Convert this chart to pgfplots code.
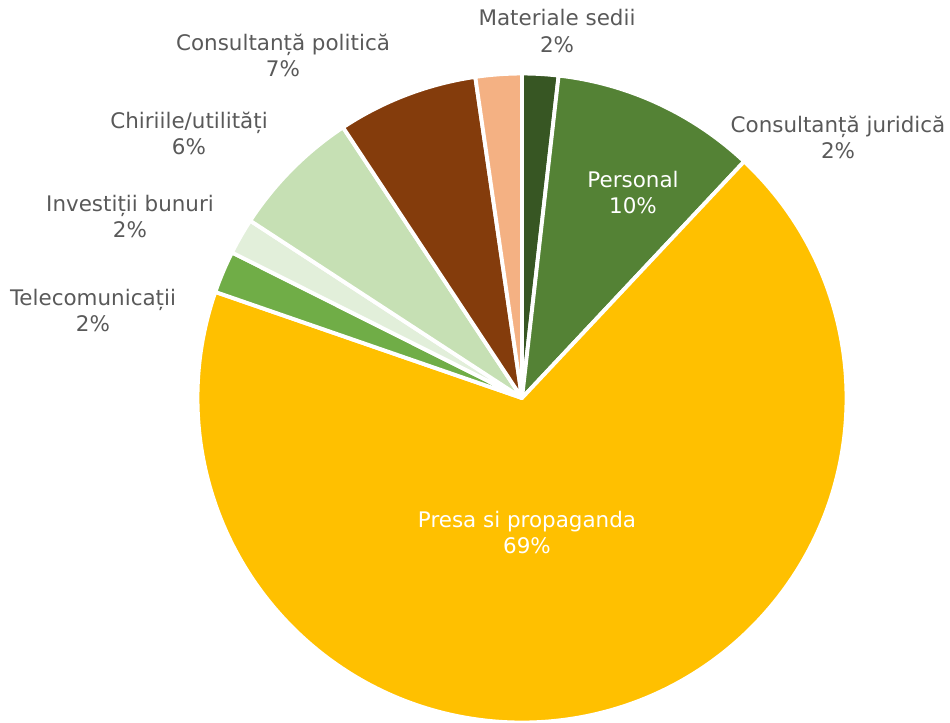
\documentclass[border=0pt]{standalone}
\usepackage{fontspec}
\setmainfont{DejaVu Sans}
\usepackage{pgfplots}
\usepackage{pgfplotstable}
\pgfplotsset{compat=1.18}

\definecolor{cjur}{HTML}{375623}
\definecolor{cpers}{HTML}{548235}
\definecolor{cpresa}{HTML}{FFC000}
\definecolor{ctel}{HTML}{70AD47}
\definecolor{cinv}{HTML}{E2EFDA}
\definecolor{cchir}{HTML}{C6E0B4}
\definecolor{cpol}{HTML}{843C0C}
\definecolor{cmat}{HTML}{F4B183}
\definecolor{lblgray}{HTML}{595959}

% share of each slice (percent), clockwise from 12 o'clock
\pgfplotstableread{
name     val   col
jur      1.8   cjur
pers     10.2  cpers
presa    68.3  cpresa
tel      2.1   ctel
inv      1.8   cinv
chir     6.5   cchir
pol      7.0   cpol
mat      2.3   cmat
}\piedata

\tikzset{lbl/.style={font=\fontsize{12.2}{14.8}\selectfont, align=center}}

\begin{document}
\begin{tikzpicture}
\begin{axis}[
    scale only axis,
    width=19cm, height=14.44cm,
    xmin=0, xmax=950, ymin=0, ymax=722,
    y dir=reverse,
    hide axis,
    clip=false,
    ]
    \pgfplotstablegetrowsof{\piedata}
    \pgfmathtruncatemacro\nrows{\pgfplotsretval-1}
    \def\cum{0}
    \pgfplotsforeachungrouped \i in {0,...,\nrows}{
        \pgfplotstablegetelem{\i}{val}\of\piedata \let\v\pgfplotsretval
        \pgfplotstablegetelem{\i}{col}\of\piedata \let\c\pgfplotsretval
        \pgfmathsetmacro\a{90-3.6*\cum}
        \pgfmathsetmacro\b{90-3.6*(\cum+\v)}
        \edef\doit{\noexpand\filldraw[fill=\c, draw=white, line width=2.2pt, line join=round]
            (axis cs:522,398) -- ++(\a:6.49cm) arc[start angle=\a, end angle=\b, radius=6.49cm] -- cycle;}
        \doit
        \pgfmathsetmacro\cum{\cum+\v}
    }

    \node[lbl, text=lblgray] at (axis cs:557,31) {Materiale sedii\\2\%};
    \node[lbl, text=lblgray] at (axis cs:838,137) {Consultanță juridică\\2\%};
    \node[lbl, text=white] at (axis cs:633,192) {Personal\\10\%};
    \node[lbl, text=white] at (axis cs:527,532) {Presa si propaganda\\69\%};
    \node[lbl, text=lblgray] at (axis cs:93,310) {Telecomunicații\\2\%};
    \node[lbl, text=lblgray] at (axis cs:130,216) {Investiții bunuri\\2\%};
    \node[lbl, text=lblgray] at (axis cs:189,133) {Chiriile/utilități\\6\%};
    \node[lbl, text=lblgray] at (axis cs:283,55) {Consultanță politică\\7\%};
\end{axis}
\pgfresetboundingbox
\path[use as bounding box] (current axis.south west) rectangle (current axis.north east);
\end{tikzpicture}
\end{document}
